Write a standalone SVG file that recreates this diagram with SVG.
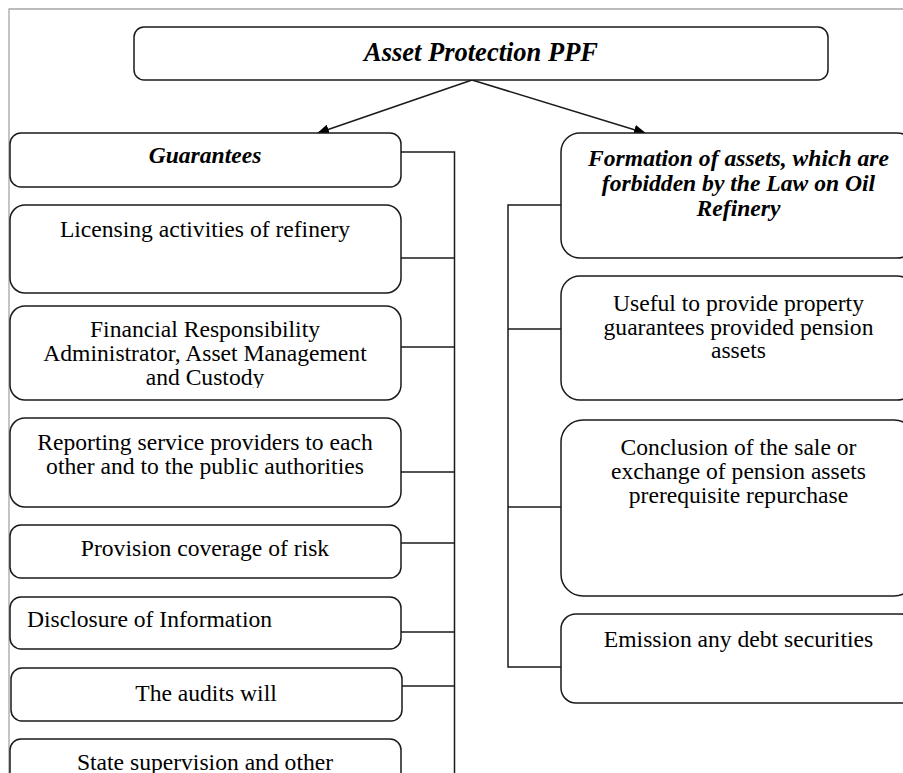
<svg xmlns="http://www.w3.org/2000/svg" width="903" height="773" viewBox="0 0 903 773">
<style>
.box{fill:#fff;stroke:#1a1a1a;stroke-width:1.5}
.t{font-family:"Liberation Serif","Times New Roman",serif;font-size:23.6px;fill:#000;text-anchor:middle}
.bi{font-weight:bold;font-style:italic}
.c{fill:none;stroke:#1a1a1a;stroke-width:1.5}
</style>
<defs>
<marker id="ah" markerWidth="12" markerHeight="10" refX="11" refY="5" orient="auto" markerUnits="userSpaceOnUse">
<path d="M0,0 L12,5 L0,10 Z" fill="#000"/>
</marker>
<clipPath id="clipFin"><rect x="10" y="306" width="392" height="82"/></clipPath>
</defs>
<rect width="903" height="773" fill="#fff"/>
<path d="M9,773 V9 H903" fill="none" stroke="#a6a6a6" stroke-width="1.3"/>

<g id="connectors">
<line class="c" x1="472" y1="80" x2="318" y2="133" marker-end="url(#ah)"/>
<line class="c" x1="472" y1="80" x2="645" y2="133" marker-end="url(#ah)"/>
<path class="c" d="M401,152 H454.5 V773"/>
<path class="c" d="M401,258 H454.5"/>
<path class="c" d="M401,347 H454.5"/>
<path class="c" d="M401,472 H454.5"/>
<path class="c" d="M401,543 H454.5"/>
<path class="c" d="M401,632 H454.5"/>
<path class="c" d="M402,686 H454.5"/>
<path class="c" d="M561,205 H508 V667 H561"/>
<path class="c" d="M508,329 H561"/>
<path class="c" d="M508,507 H561"/>
</g>

<g id="root">
<rect class="box" x="134" y="27" width="694" height="53" rx="10"/>
<text class="t bi" x="481" y="61" style="font-size:26.5px">Asset Protection PPF</text>
</g>

<g id="guarantees">
<rect class="box" x="10" y="133" width="391" height="54" rx="11"/>
<text class="t bi" x="205" y="163">Guarantees</text>
</g>

<g id="licensing">
<rect class="box" x="10" y="205" width="391" height="88" rx="15"/>
<text class="t" x="205" y="237">Licensing activities of refinery</text>
</g>

<g id="financial">
<rect class="box" x="10" y="306" width="391" height="94" rx="15"/>
<text class="t" clip-path="url(#clipFin)"><tspan x="205" y="337">Financial Responsibility</tspan><tspan x="205" y="361">Administrator, Asset Management</tspan><tspan x="205" y="385">and Custody</tspan></text>
</g>

<g id="reporting">
<rect class="box" x="10" y="418" width="391" height="89" rx="15"/>
<text class="t"><tspan x="205" y="450">Reporting service providers to each</tspan><tspan x="205" y="474">other and to the public authorities</tspan></text>
</g>

<g id="provision">
<rect class="box" x="10" y="525" width="391" height="53" rx="11"/>
<text class="t" x="205" y="556">Provision coverage of risk</text>
</g>

<g id="disclosure">
<rect class="box" x="10" y="597" width="391" height="52" rx="11"/>
<text class="t" x="27" y="627" style="text-anchor:start">Disclosure of Information</text>
</g>

<g id="audits">
<rect class="box" x="11" y="668" width="391" height="53" rx="11"/>
<text class="t" x="206" y="701">The audits will</text>
</g>

<g id="state">
<rect class="box" x="10" y="739" width="391" height="60" rx="11"/>
<text class="t" x="205" y="770">State supervision and other</text>
</g>

<g id="formation">
<rect class="box" x="561" y="133" width="355" height="125" rx="19"/>
<text class="t bi"><tspan x="738.5" y="166">Formation of assets, which are</tspan><tspan x="738.5" y="191">forbidden by the Law on Oil</tspan><tspan x="738.5" y="216">Refinery</tspan></text>
</g>

<g id="useful">
<rect class="box" x="561" y="276" width="355" height="124" rx="19"/>
<text class="t"><tspan x="738.5" y="311">Useful to provide property</tspan><tspan x="738.5" y="335">guarantees provided pension</tspan><tspan x="738.5" y="358">assets</tspan></text>
</g>

<g id="conclusion">
<rect class="box" x="561" y="420" width="355" height="176" rx="22"/>
<text class="t"><tspan x="738.5" y="455">Conclusion of the sale or</tspan><tspan x="738.5" y="479">exchange of pension assets</tspan><tspan x="738.5" y="503">prerequisite repurchase</tspan></text>
</g>

<g id="emission">
<rect class="box" x="561" y="614" width="355" height="89" rx="15"/>
<text class="t" x="738.5" y="647">Emission any debt securities</text>
</g>
</svg>
